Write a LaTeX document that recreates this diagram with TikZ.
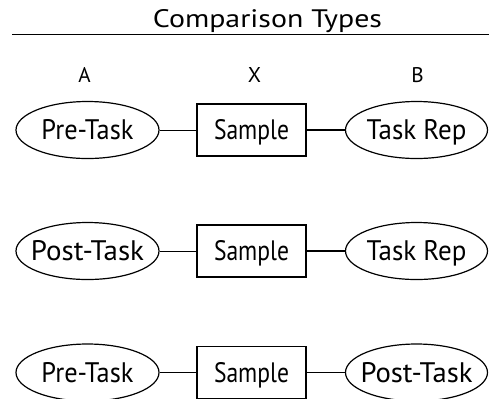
\documentclass[tikz,border=0pt]{standalone}
\usepackage{graphicx}
\usepackage{fontspec}
\setmainfont{PT Sans}
\usetikzlibrary{shapes.geometric}
\newcommand{\fittext}[3]{\makebox[0pt]{\resizebox{#1}{#2}{#3}}}
\begin{document}
\begin{tikzpicture}[x=1bp,y=-1bp,
  oval/.style={draw, ellipse, line width=1.2bp, minimum width=143bp, minimum height=57bp, inner sep=0pt, text height=19.5bp, text depth=0pt},
  sbox/.style={draw, rectangle, line width=1.2bp, minimum width=109bp, minimum height=52bp, inner sep=0pt, text height=19.5bp, text depth=0pt},
  head/.style={inner sep=0pt, text height=15bp, text depth=0pt},
  thinline/.style={line width=0.9bp},
  thickline/.style={line width=1.4bp}]
\useasboundingbox (0,0) rectangle (489,398);
\node[inner sep=0pt, anchor=base] (title) at (267.5,27) {\resizebox{229bp}{18bp}{Comparison Types}};
\coordinate (rl) at (12,34.5);
\coordinate (rr) at (489,34.5);
\draw[line width=1.2bp] (rl) -- (rr);
\node[head] (A) at (84.5,74.5) {\resizebox{!}{15bp}{A}};
\node[head] (X) at (254.5,74.5) {\resizebox{!}{15bp}{X}};
\node[head] (B) at (417.5,74.5) {\resizebox{!}{15bp}{B}};
% row 1
\node[oval] (a1) at (87.5,130) {\fittext{92bp}{20bp}{Pre-Task}};
\node[sbox] (x1) at (251.5,130) {\fittext{75bp}{20bp}{Sample}};
\node[oval, minimum width=142bp] (b1) at (416.5,130) {\fittext{100bp}{20bp}{Task Rep}};
\draw[thinline] (a1) -- (x1);
\draw[thickline] (x1) -- (b1);
% row 2
\node[oval] (a2) at (87.5,251) {\fittext{113bp}{20bp}{Post-Task}};
\node[sbox] (x2) at (251.5,251) {\fittext{75bp}{20bp}{Sample}};
\node[oval, minimum width=142bp] (b2) at (416.5,251) {\fittext{100bp}{20bp}{Task Rep}};
\draw[thinline] (a2) -- (x2);
\draw[thickline] (x2) -- (b2);
% row 3
\node[oval] (a3) at (87.5,372.5) {\fittext{92bp}{20bp}{Pre-Task}};
\node[sbox] (x3) at (251.5,372.5) {\fittext{75bp}{20bp}{Sample}};
\node[oval, minimum width=142bp] (b3) at (416.5,372.5) {\fittext{112bp}{20bp}{Post-Task}};
\draw[thinline] (a3) -- (x3);
\draw[thickline] (x3) -- (b3);
\end{tikzpicture}
\end{document}
